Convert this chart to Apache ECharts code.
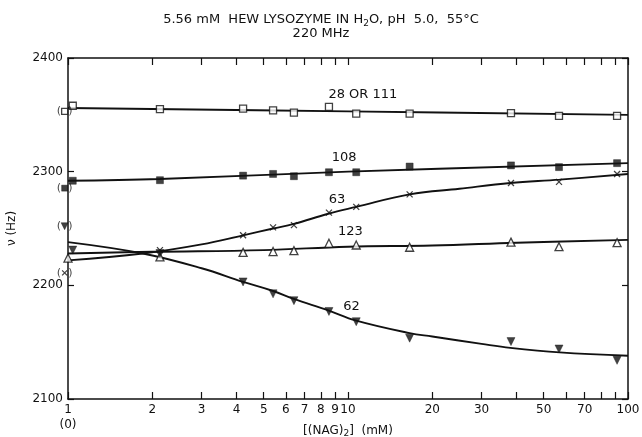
<!DOCTYPE html>
<html>
<head>
<meta charset="utf-8">
<script src="https://cdn.jsdelivr.net/npm/echarts@6/dist/echarts.min.js"></script>
<style>html,body{margin:0;padding:0;background:#fff}#c{width:642px;height:437px}</style>
</head>
<body>
<div id="c"></div>
<script>
// ---- data (concentrations in mM, shifts in Hz) ----
const xTickVals = [1,2,3,4,5,6,7,8,9,10,20,30,40,50,60,70,80,90,100];
const xLabelVals = [1,2,3,4,5,6,7,8,9,10,20,30,50,70,100];
const yTickVals = [2100,2200,2300,2400];

const conc = [1.04, 2.13, 4.22, 5.40, 6.41, 8.55, 10.7, 16.6, 38.2, 56.7, 91.4];
const pts28  = [2358, 2355, 2355.5, 2354, 2352, 2357, 2351, 2351, 2351.5, 2349, 2349];
const pts108 = [2292, 2292.5, 2296.5, 2298, 2296, 2299.5, 2299.5, 2304.5, 2305.5, 2304, 2307.5];
const conc63 = [2.13, 4.22, 5.40, 6.41, 8.55, 10.7, 16.6, 38.2, 56.7, 91.4];
const pts63  = [2231, 2244, 2251, 2253, 2264, 2269, 2280, 2290, 2291, 2298];
const conc123 = [1.0, 2.13, 4.22, 5.40, 6.41, 8.55, 10.7, 16.6, 38.2, 56.7, 91.4];
const pts123  = [2224, 2225, 2229, 2229.7, 2230.5, 2237, 2235.5, 2233.5, 2238, 2234, 2237.6];
const pts62  = [2231, 2228, 2203, 2192.5, 2186.5, 2177, 2168, 2153.5, 2150.5, 2144, 2134];

// zero-concentration values (shown in brackets at the "(0)" position)
const zeroLabels = ['28', '108', '62', '63'];
const zeroVals   = [2353, 2285.5, 2252, 2211];

// fitted curves
const curve28x  = [1, 10, 100];
const curve28y  = [2356, 2353, 2350];
const curve108x = [1, 2.13, 10, 100];
const curve108y = [2292, 2293.5, 2300, 2307.5];
const curve63x  = [1, 1.85, 3, 4.22, 5.4, 6.4, 8.5, 10.7, 16.6, 25, 38, 57, 100];
const curve63y  = [2222, 2228, 2236, 2244, 2250, 2254, 2263, 2269, 2280, 2285, 2290, 2293, 2298];
const curve123x = [1, 2, 5, 10, 20, 40, 100];
const curve123y = [2228, 2229.5, 2231, 2234, 2235, 2237.5, 2240];
const curve62x  = [1, 1.85, 3, 4.22, 5.4, 6.4, 8.5, 10.7, 16.6, 20, 30, 38, 57, 100];
const curve62y  = [2238, 2228, 2215, 2203, 2195, 2188, 2178, 2169, 2158, 2155, 2148.5, 2145, 2141, 2138];

// curve labels
const labelTexts = ['28 OR 111', '108', '63', '123', '62'];
const labelX = [11.3, 9.68, 9.14, 10.2, 10.3];
const labelY = [2367.5, 2312, 2275, 2247, 2181];

// ---- build ----
const lg = Math.log10;
const pairs = (xs, ys) => xs.map((x, i) => [lg(x), ys[i]]);
const FONT = 'DejaVu Sans';
const black = '#111';

const chart = echarts.init(document.getElementById('c'), null, {renderer: 'canvas'});

const curveSeries = (xs, ys, extra) => Object.assign({
  type: 'line', data: pairs(xs, ys), smooth: 0.4, showSymbol: false, silent: true,
  lineStyle: {color: black, width: 1.9}, z: 2
}, extra || {});

const crossPath = 'path://M0,0L10,10M10,0L0,10';

const open = {color: '#fff', borderColor: black, borderWidth: 1.3};
const filled = {color: black, borderColor: black, borderWidth: 0.5};

const zeroSymbols = {
  '28': {symbol: 'rect', itemStyle: open, rotate: 0, size: 6},
  '108': {symbol: 'rect', itemStyle: filled, rotate: 0, size: 6},
  '62': {symbol: 'triangle', itemStyle: filled, rotate: 180, size: 7},
  '63': {symbol: crossPath, itemStyle: {color: 'none', borderColor: black, borderWidth: 1.2}, rotate: 0, size: 5}
};

const zeroData = zeroLabels.map((k, i) => ({
  value: [-0.012, zeroVals[i]],
  symbol: zeroSymbols[k].symbol,
  symbolSize: zeroSymbols[k].size,
  symbolRotate: zeroSymbols[k].rotate,
  itemStyle: zeroSymbols[k].itemStyle
}));

chart.setOption({
  animation: false,
  backgroundColor: '#fff',
  textStyle: {fontFamily: FONT, color: black},
  title: [
    {text: '5.56 mM  HEW LYSOZYME IN H{s|2}O, pH  5.0,  55°C', left: 'center', top: 6,
     textStyle: {fontFamily: FONT, fontSize: 13, fontWeight: 'normal', color: black,
       rich: {s: {fontSize: 9, verticalAlign: 'bottom', padding: [8, 0, 0, 0], fontFamily: FONT, color: black}}}},
    {text: '220 MHz', left: 'center', top: 22,
     textStyle: {fontFamily: FONT, fontSize: 13, fontWeight: 'normal', color: black}}
  ],
  grid: {left: 68, right: 14, top: 58, bottom: 38, outerBoundsMode: 'none', containLabel: false},
  xAxis: [
    {type: 'value', min: 0, max: 2, position: 'bottom',
     name: '[(NAG){s|2}]  (mM)', nameLocation: 'middle', nameGap: 24, nameMoveOverlap: false,
     nameTextStyle: {fontFamily: FONT, fontSize: 12, color: black,
       rich: {s: {fontSize: 9, verticalAlign: 'bottom', padding: [6, 0, 0, 0], fontFamily: FONT, color: black}}},
     axisLine: {show: true, lineStyle: {color: black, width: 1.5}},
     axisTick: {show: true, inside: true, length: 7, lineStyle: {color: black, width: 1.2},
       customValues: xTickVals.map(lg)},
     axisLabel: {show: true, customValues: xLabelVals.map(lg), margin: 3,
       fontFamily: FONT, fontSize: 12, color: black, lineHeight: 15,
       formatter: v => { const n = Math.round(Math.pow(10, v)); return n === 1 ? '1\n(0)' : String(n); }},
     splitLine: {show: false}},
    {type: 'value', min: 0, max: 2, position: 'top',
     axisLine: {show: true, onZero: false, lineStyle: {color: black, width: 1.5}},
     axisTick: {show: true, inside: true, length: 7, lineStyle: {color: black, width: 1.2},
       customValues: xTickVals.map(lg)},
     axisLabel: {show: false}, splitLine: {show: false}}
  ],
  yAxis: [
    {type: 'value', min: 2100, max: 2400, interval: 100, position: 'left',
     name: 'ν (Hz)', nameLocation: 'middle', nameGap: 50, nameRotate: 90, nameMoveOverlap: false,
     nameTextStyle: {fontFamily: FONT, fontSize: 12, color: black},
     axisLine: {show: true, lineStyle: {color: black, width: 1.5}},
     axisTick: {show: true, inside: true, length: 6, lineStyle: {color: black, width: 1.2},
       customValues: yTickVals},
     axisLabel: {margin: 5, fontFamily: FONT, fontSize: 12, color: black, customValues: yTickVals,
       formatter: v => String(v)},
     splitLine: {show: false}},
    {type: 'value', min: 2100, max: 2400, interval: 100, position: 'right',
     axisLine: {show: true, onZero: false, lineStyle: {color: black, width: 1.5}},
     axisTick: {show: true, inside: true, length: 6, lineStyle: {color: black, width: 1.2}},
     axisLabel: {show: false}, splitLine: {show: false}}
  ],
  series: [
    curveSeries(curve28x, curve28y),
    curveSeries(curve108x, curve108y),
    curveSeries(curve63x, curve63y),
    curveSeries(curve123x, curve123y),
    curveSeries(curve62x, curve62y, {
      markPoint: {
        symbol: 'circle', symbolSize: 0, silent: true,
        label: {show: true, position: 'inside', fontFamily: FONT, fontSize: 13, color: black,
                formatter: p => p.name},
        data: labelTexts.map((t, i) => ({name: t, coord: [lg(labelX[i]), labelY[i]]}))
      }
    }),
    {type: 'scatter', data: pairs(conc, pts28), symbol: 'rect', symbolSize: 7, itemStyle: open, z: 5},
    {type: 'scatter', data: pairs(conc, pts108), symbol: 'rect', symbolSize: 7, itemStyle: filled, z: 5},
    {type: 'scatter', data: pairs(conc63, pts63), symbol: crossPath, symbolSize: 6,
     itemStyle: {color: 'none', borderColor: black, borderWidth: 1.3}, z: 5},
    {type: 'scatter', data: pairs(conc123, pts123), symbol: 'triangle', symbolSize: 8, itemStyle: open, z: 5},
    {type: 'scatter', data: pairs(conc, pts62), symbol: 'triangle', symbolRotate: 180, symbolSize: 8, itemStyle: filled, z: 5},
    {type: 'scatter', data: zeroData, clip: false, z: 6,
     label: {show: true, position: 'inside', formatter: '{p|(}{g|}{p|)}',
       rich: {p: {fontFamily: FONT, fontSize: 11, color: black}, g: {width: 7}}}}
  ]
});
</script>
</body>
</html>
